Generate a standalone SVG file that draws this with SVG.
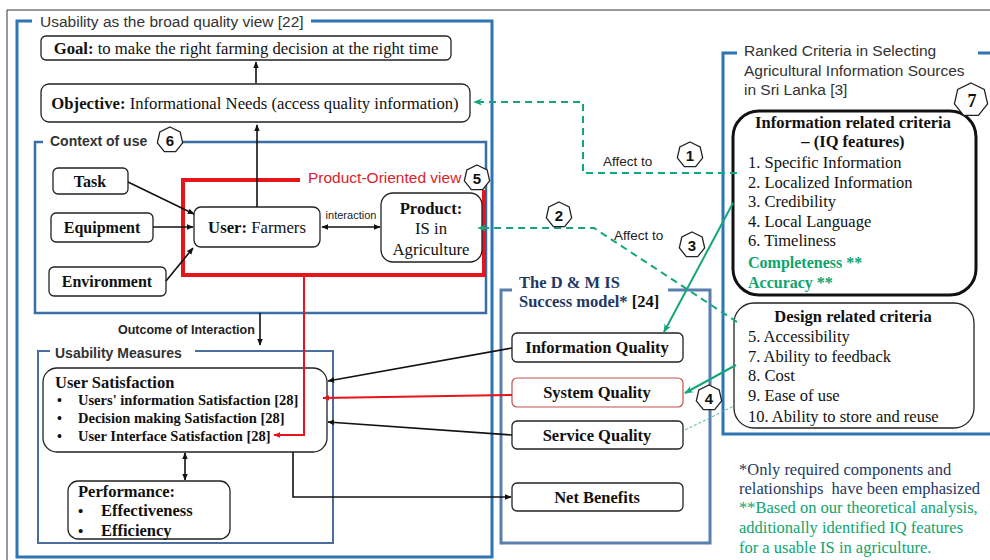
<svg xmlns="http://www.w3.org/2000/svg" width="990" height="560" viewBox="0 0 990 560">
<defs>
<style>
.sans{font-family:"Liberation Sans",Arial,sans-serif;}
.frame{fill:none;stroke:#2e75b6;stroke-width:3;}
.frame2{fill:none;stroke:#3a6ea5;stroke-width:2.5;}
.box{fill:#fff;stroke:#222;stroke-width:1.3;}
.ftitle{font-family:"Liberation Sans",Arial,sans-serif;font-size:15.5px;fill:#333;}
.bt{font-family:"Liberation Serif","Times New Roman",serif;font-weight:bold;}
.st{font-family:"Liberation Serif","Times New Roman",serif;font-size:16.5px;}
.k{fill:#111;}
.navy{fill:#1f3864;}
.grn{fill:#0ea46f;}
.hex{fill:#fff;stroke:#222;stroke-width:1.3;}
.hext{font-family:"Liberation Sans",Arial,sans-serif;font-weight:bold;font-size:15px;fill:#111;text-anchor:middle;}
.blk{fill:none;stroke:#111;stroke-width:1.6;}
.grd{fill:none;stroke:#13a67e;stroke-width:2;stroke-dasharray:7 5;}
.grs{fill:none;stroke:#13a67e;stroke-width:2;}
.red{fill:none;stroke:#e8141b;stroke-width:2;}
</style>
<marker id="ab" viewBox="0 0 10 10" refX="9" refY="5" markerWidth="7" markerHeight="7" orient="auto-start-reverse" markerUnits="userSpaceOnUse"><path d="M0,1 L10,5 L0,9 z" fill="#111"/></marker>
<marker id="ag" viewBox="0 0 10 10" refX="9" refY="5" markerWidth="9" markerHeight="9" orient="auto" markerUnits="userSpaceOnUse"><path d="M0,1 L10,5 L0,9 L3,5 z" fill="#13a67e"/></marker>
<marker id="ar" viewBox="0 0 10 10" refX="9" refY="5" markerWidth="7" markerHeight="7" orient="auto" markerUnits="userSpaceOnUse"><path d="M0,1 L10,5 L0,9 z" fill="#e8141b"/></marker>
<polygon id="hept" points="0,-13 10.16,-8.11 12.67,2.89 5.64,11.71 -5.64,11.71 -12.67,2.89 -10.16,-8.11"/>
<polygon id="hept7" points="0,-17 13.3,-10.6 16.6,3.8 7.4,15.3 -7.4,15.3 -16.6,3.8 -13.3,-10.6"/>
</defs>
<rect width="990" height="560" fill="#fff"/>
<path d="M7,560 V10 H990" fill="none" stroke="#333" stroke-width="1"/>

<!-- frames -->
<g id="frame-usability">
<path class="frame" d="M32,21 H17 V557 H492 V21 H311"/>
<text class="ftitle" x="40" y="27">Usability as the broad quality view [22]</text>
</g>
<g id="frame-context">
<path class="frame2" d="M43,142 H35 V313 H486 V142 H182"/>
<text class="sans" x="50" y="146" font-size="14" font-weight="bold" fill="#333">Context of use</text>
<use href="#hept" class="hex" x="170" y="140"/>
<text class="hext" x="170" y="146">6</text>
</g>
<g id="frame-measures">
<path fill="none" stroke="#4a6f9e" stroke-width="2" d="M50,351 H38 V543 H333 V351 H195"/>
<text class="sans" x="55" y="358" font-size="14" font-weight="bold" fill="#333">Usability Measures</text>
</g>
<g id="frame-dm">
<path fill="none" stroke="#5a7fae" stroke-width="3" d="M512,290 H501 V543 H710 V290 H668"/>
<text class="bt navy" x="519" y="288" font-size="16.5">The D &amp; M IS</text>
<text class="bt navy" x="519" y="307" font-size="16.5">Success model* <tspan class="k">[24]</tspan></text>
</g>
<g id="frame-ranked">
<path class="frame" d="M737,53 H723 V434 H992 M978,53 H992"/>
<text class="ftitle" x="744" y="56">Ranked Criteria in Selecting</text>
<text class="ftitle" x="744" y="76">Agricultural Information Sources</text>
<text class="ftitle" x="744" y="95">in Sri Lanka [3]</text>
</g>

<!-- nodes -->
<g id="goal">
<rect class="box" x="41" y="36" width="410" height="24" rx="5"/>
<text class="st k" x="246" y="54" text-anchor="middle" style="font-size:16.7px"><tspan font-weight="bold">Goal:</tspan> to make the right farming decision at the right time</text>
</g>
<g id="objective">
<rect class="box" x="41" y="84" width="429" height="38" rx="8"/>
<text class="st k" x="255" y="109" text-anchor="middle" style="font-size:16.7px"><tspan font-weight="bold">Objective:</tspan> Informational Needs (access quality information)</text>
</g>
<g id="task">
<rect class="box" x="53" y="168" width="75" height="26" rx="5"/>
<text class="bt k" x="90" y="187" font-size="16" text-anchor="middle">Task</text>
</g>
<g id="equipment">
<rect class="box" x="51" y="213" width="102" height="29" rx="5"/>
<text class="bt k" x="102" y="233" font-size="16" text-anchor="middle">Equipment</text>
</g>
<g id="environment">
<rect class="box" x="49" y="267" width="117" height="29" rx="5"/>
<text class="bt k" x="107" y="287" font-size="16" text-anchor="middle">Environment</text>
</g>
<g id="product-view">
<path fill="none" stroke="#e8141b" stroke-width="4" d="M300,180 H183 V275 H484 V190"/>
<text class="sans" x="308" y="183" font-size="15.5" fill="#d9232a">Product-Oriented view</text>
<use href="#hept" class="hex" x="477" y="178"/>
<text class="hext" x="477" y="184">5</text>
</g>
<g id="user">
<rect class="box" x="194" y="207" width="126" height="40" rx="7"/>
<text class="st k" x="257" y="233" style="font-size:16.7px" text-anchor="middle"><tspan font-weight="bold">User:</tspan> Farmers</text>
</g>
<g id="product">
<rect class="box" x="381" y="193" width="101" height="69" rx="12"/>
<text class="bt k" x="431" y="214" font-size="16.7" text-anchor="middle">Product:</text>
<text class="st k" x="431" y="234" style="font-size:16.7px" text-anchor="middle">IS in</text>
<text class="st k" x="431" y="255" style="font-size:16.7px" text-anchor="middle">Agriculture</text>
</g>
<g id="user-satisfaction">
<rect class="box" x="43" y="368" width="284" height="84" rx="14"/>
<text class="bt k" x="55" y="388" font-size="16.5">User Satisfaction</text>
<text class="bt k" font-size="14" x="57" y="405">•</text>
<text class="bt k" font-size="14.5" x="78" y="405">Users' information Satisfaction [28]</text>
<text class="bt k" font-size="14" x="57" y="423">•</text>
<text class="bt k" font-size="14.5" x="78" y="423">Decision making Satisfaction [28]</text>
<text class="bt k" font-size="14" x="57" y="441">•</text>
<text class="bt k" font-size="14.5" x="78" y="441">User Interface Satisfaction [28]</text>
</g>
<g id="performance">
<rect class="box" x="68" y="481" width="162" height="58" rx="10"/>
<text class="bt k" x="78" y="497" font-size="16.5">Performance:</text>
<text class="bt k" x="78" y="516" font-size="15">•</text>
<text class="bt k" x="101" y="516" font-size="16.5">Effectiveness</text>
<text class="bt k" x="78" y="536" font-size="15">•</text>
<text class="bt k" x="101" y="536" font-size="16.5">Efficiency</text>
</g>
<g id="information-quality">
<rect class="box" x="512" y="333" width="171" height="29" rx="5"/>
<text class="bt k" x="597" y="353" font-size="16.5" text-anchor="middle">Information Quality</text>
</g>
<g id="system-quality">
<rect x="512" y="378" width="171" height="29" rx="5" fill="#fff" stroke="#c0504d" stroke-width="1.2"/>
<text class="bt k" x="597" y="398" font-size="16.5" text-anchor="middle">System Quality</text>
</g>
<g id="service-quality">
<rect class="box" x="512" y="421" width="171" height="28" rx="5"/>
<text class="bt k" x="597" y="441" font-size="16.5" text-anchor="middle">Service Quality</text>
</g>
<g id="net-benefits">
<rect class="box" x="512" y="483" width="171" height="28" rx="5"/>
<text class="bt k" x="597" y="503" font-size="16.5" text-anchor="middle">Net Benefits</text>
</g>
<g id="info-criteria">
<rect x="733" y="111" width="243" height="184" rx="26" fill="#fff" stroke="#111" stroke-width="3"/>
<text class="bt k" x="853" y="128" font-size="16.5" text-anchor="middle">Information related criteria</text>
<text class="bt k" x="853" y="147" font-size="16.5" text-anchor="middle">– (IQ features)</text>
<text class="st k" x="748" y="168">1. Specific Information</text>
<text class="st k" x="748" y="188">2. Localized Information</text>
<text class="st k" x="748" y="207">3. Credibility</text>
<text class="st k" x="748" y="227">4. Local Language</text>
<text class="st k" x="748" y="246">6. Timeliness</text>
<text class="bt grn" x="748" y="268" font-size="16">Completeness **</text>
<text class="bt grn" x="748" y="288" font-size="16">Accuracy **</text>
<use href="#hept7" class="hex" x="971" y="100"/>
<text class="bt k" x="972" y="107" font-size="18" text-anchor="middle">7</text>
</g>
<g id="design-criteria">
<rect x="734" y="303" width="240" height="125" rx="20" fill="#fff" stroke="#222" stroke-width="1.3"/>
<text class="bt k" x="853" y="322" font-size="16.5" text-anchor="middle">Design related criteria</text>
<text class="st k" x="748" y="342">5. Accessibility</text>
<text class="st k" x="748" y="362">7. Ability to feedback</text>
<text class="st k" x="748" y="381">8. Cost</text>
<text class="st k" x="748" y="401">9. Ease of use</text>
<text class="st k" x="748" y="422">10. Ability to store and reuse</text>
</g>
<g id="footnote">
<text class="st navy" x="739" y="475">*Only required components and</text>
<text class="st navy" x="739" y="494" xml:space="preserve">relationships  have been emphasized</text>
<text class="st grn" x="739" y="513">**Based on our theoretical analysis,</text>
<text class="st grn" x="739" y="533">additionally identified IQ features</text>
<text class="st grn" x="739" y="553">for a usable IS in agriculture.</text>
</g>

<!-- connectors -->
<g id="connectors">
<path class="blk" d="M256,83 V62" marker-end="url(#ab)"/>
<path class="blk" d="M257,207 V125" marker-end="url(#ab)"/>
<path class="blk" d="M128,182 L194,214" marker-end="url(#ab)"/>
<path class="blk" d="M153,227 L193,227" marker-end="url(#ab)"/>
<path class="blk" d="M166,281 L193,248" marker-end="url(#ab)"/>
<path class="blk" d="M322,227 H380" marker-start="url(#ab)" marker-end="url(#ab)"/>
<text class="sans" x="351" y="219" font-size="11" text-anchor="middle" fill="#222">interaction</text>
<path class="red" d="M304,276 V435 H274" marker-end="url(#ar)"/>
<path class="blk" d="M260,313 V345" marker-end="url(#ab)"/>
<text class="sans" x="118" y="334" font-size="12.5" font-weight="bold" fill="#222">Outcome of Interaction</text>
<path class="blk" d="M185,453 V480" marker-start="url(#ab)" marker-end="url(#ab)"/>
<path class="blk" d="M293,452 V497 H511" marker-end="url(#ab)"/>
<path class="blk" d="M512,348 L328,381" marker-end="url(#ab)"/>
<path class="red" d="M512,395 L323,398" marker-end="url(#ar)"/>
<path class="blk" d="M512,435 L328,422" marker-end="url(#ab)"/>
<path class="grd" d="M737,173 H583 V102 H474" marker-end="url(#ag)"/>
<text class="sans" x="603" y="166" font-size="13.5" fill="#222">Affect to</text>
<path class="grd" d="M737,322 L594,228 H478" marker-end="url(#ag)"/>
<text class="sans" x="614" y="240" font-size="13.5" fill="#222">Affect to</text>
<path class="grs" d="M733,203 L664,332" marker-end="url(#ag)"/>
<path class="grs" d="M736,365 L685,393" marker-end="url(#ag)"/>
<path fill="none" stroke="#4db6a0" stroke-width="1" stroke-dasharray="3 2" d="M685,430 L734,406"/>
<use href="#hept" class="hex" x="690" y="155"/>
<text class="hext" x="690" y="161">1</text>
<use href="#hept" class="hex" x="559" y="215"/>
<text class="hext" x="559" y="221">2</text>
<use href="#hept" class="hex" x="692" y="245"/>
<text class="hext" x="692" y="251">3</text>
<use href="#hept" class="hex" x="709" y="398"/>
<text class="hext" x="709" y="404">4</text>
</g>
</svg>
